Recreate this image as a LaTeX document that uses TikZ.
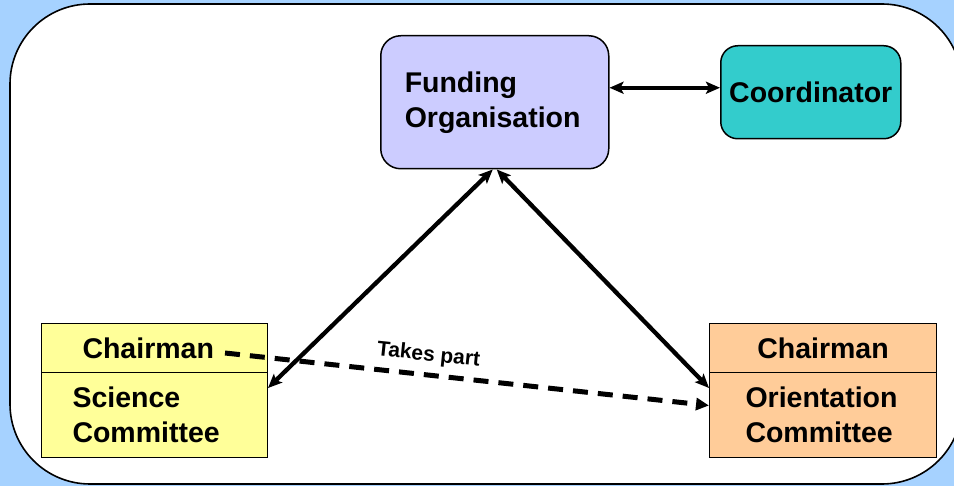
\documentclass[tikz,border=0pt]{standalone}
\usepackage{fontspec}
\setmainfont{Liberation Sans}
\usetikzlibrary{arrows.meta}
\definecolor{skyback}{RGB}{166,210,255}
\definecolor{fundfill}{RGB}{204,204,255}
\definecolor{coordfill}{RGB}{51,204,204}
\definecolor{sciencefill}{RGB}{255,255,153}
\definecolor{orientfill}{RGB}{255,204,153}
\begin{document}
\begin{tikzpicture}[x=1pt,y=-1pt,
  bigtext/.style={font=\bfseries\fontsize{28.5}{35}\selectfont},
  roundbox/.style={bigtext, draw=black, line width=1.5pt, rounded corners=20pt, inner sep=0pt, anchor=north west},
  panel/.style={bigtext, draw=black, line width=1pt, inner sep=0pt, anchor=north west},
  link/.style={{Stealth[length=14pt,width=12pt,inset=3pt]}-{Stealth[length=14pt,width=12pt,inset=3pt]}, line width=4.3pt},
  partlink/.style={-{Triangle[length=13pt,width=12pt]}, line width=5pt, dash pattern=on 15pt off 10pt}
]
  % page and frame
  \useasboundingbox (0,0) rectangle (954,486);
  \fill[skyback] (0,0) rectangle (954,486);
  \draw[fill=white, line width=1.6pt, rounded corners=80pt] (10,4) rectangle (962,484);

  % top row
  \node[roundbox, fill=fundfill, minimum width=228pt, minimum height=133pt,
        text width=180pt, inner xsep=24pt, align=left] (fund) at (380,35)
        {Funding\\Organisation};
  \node[roundbox, fill=coordfill, rounded corners=17pt, minimum width=180pt, minimum height=93pt]
        (coord) at (720,45) {Coordinator};

  % science committee
  \node[panel, fill=sciencefill, minimum height=49pt, text width=144pt, inner xsep=41pt, align=left]
        (scChair) at (41,323) {Chairman};
  \node[panel, fill=sciencefill, minimum height=85pt, text width=164pt, inner xsep=31pt, align=left]
        (scBody) at (41,372) {Science\\Committee};

  % orientation committee
  \node[panel, fill=orientfill, minimum height=49pt, minimum width=227pt]
        (ocChair) at (709,323) {Chairman};
  \node[panel, fill=orientfill, minimum height=85pt, text width=155pt, inner xsep=36pt, align=left]
        (ocBody) at (709,372) {Orientation\\Committee};

  % connectors
  \draw[link] ([yshift=14.5pt]fund.east) -- ([yshift=14.5pt]fund.east -| coord.west);
  \draw[link] ([xshift=-2pt]fund.south) -- ([yshift=-16pt]scBody.north east);
  \draw[link] ([xshift=2pt]fund.south) -- ([yshift=-16pt]ocBody.north west);

  \coordinate (dashStart) at (225,353);
  \draw[partlink] (dashStart) -- ([yshift=9.5pt]ocBody.west);
  \node[font=\bfseries\fontsize{21}{24}\selectfont, rotate=-6, anchor=base, inner sep=0pt]
        (takes) at (428,361) {Takes part};
\end{tikzpicture}
\end{document}
